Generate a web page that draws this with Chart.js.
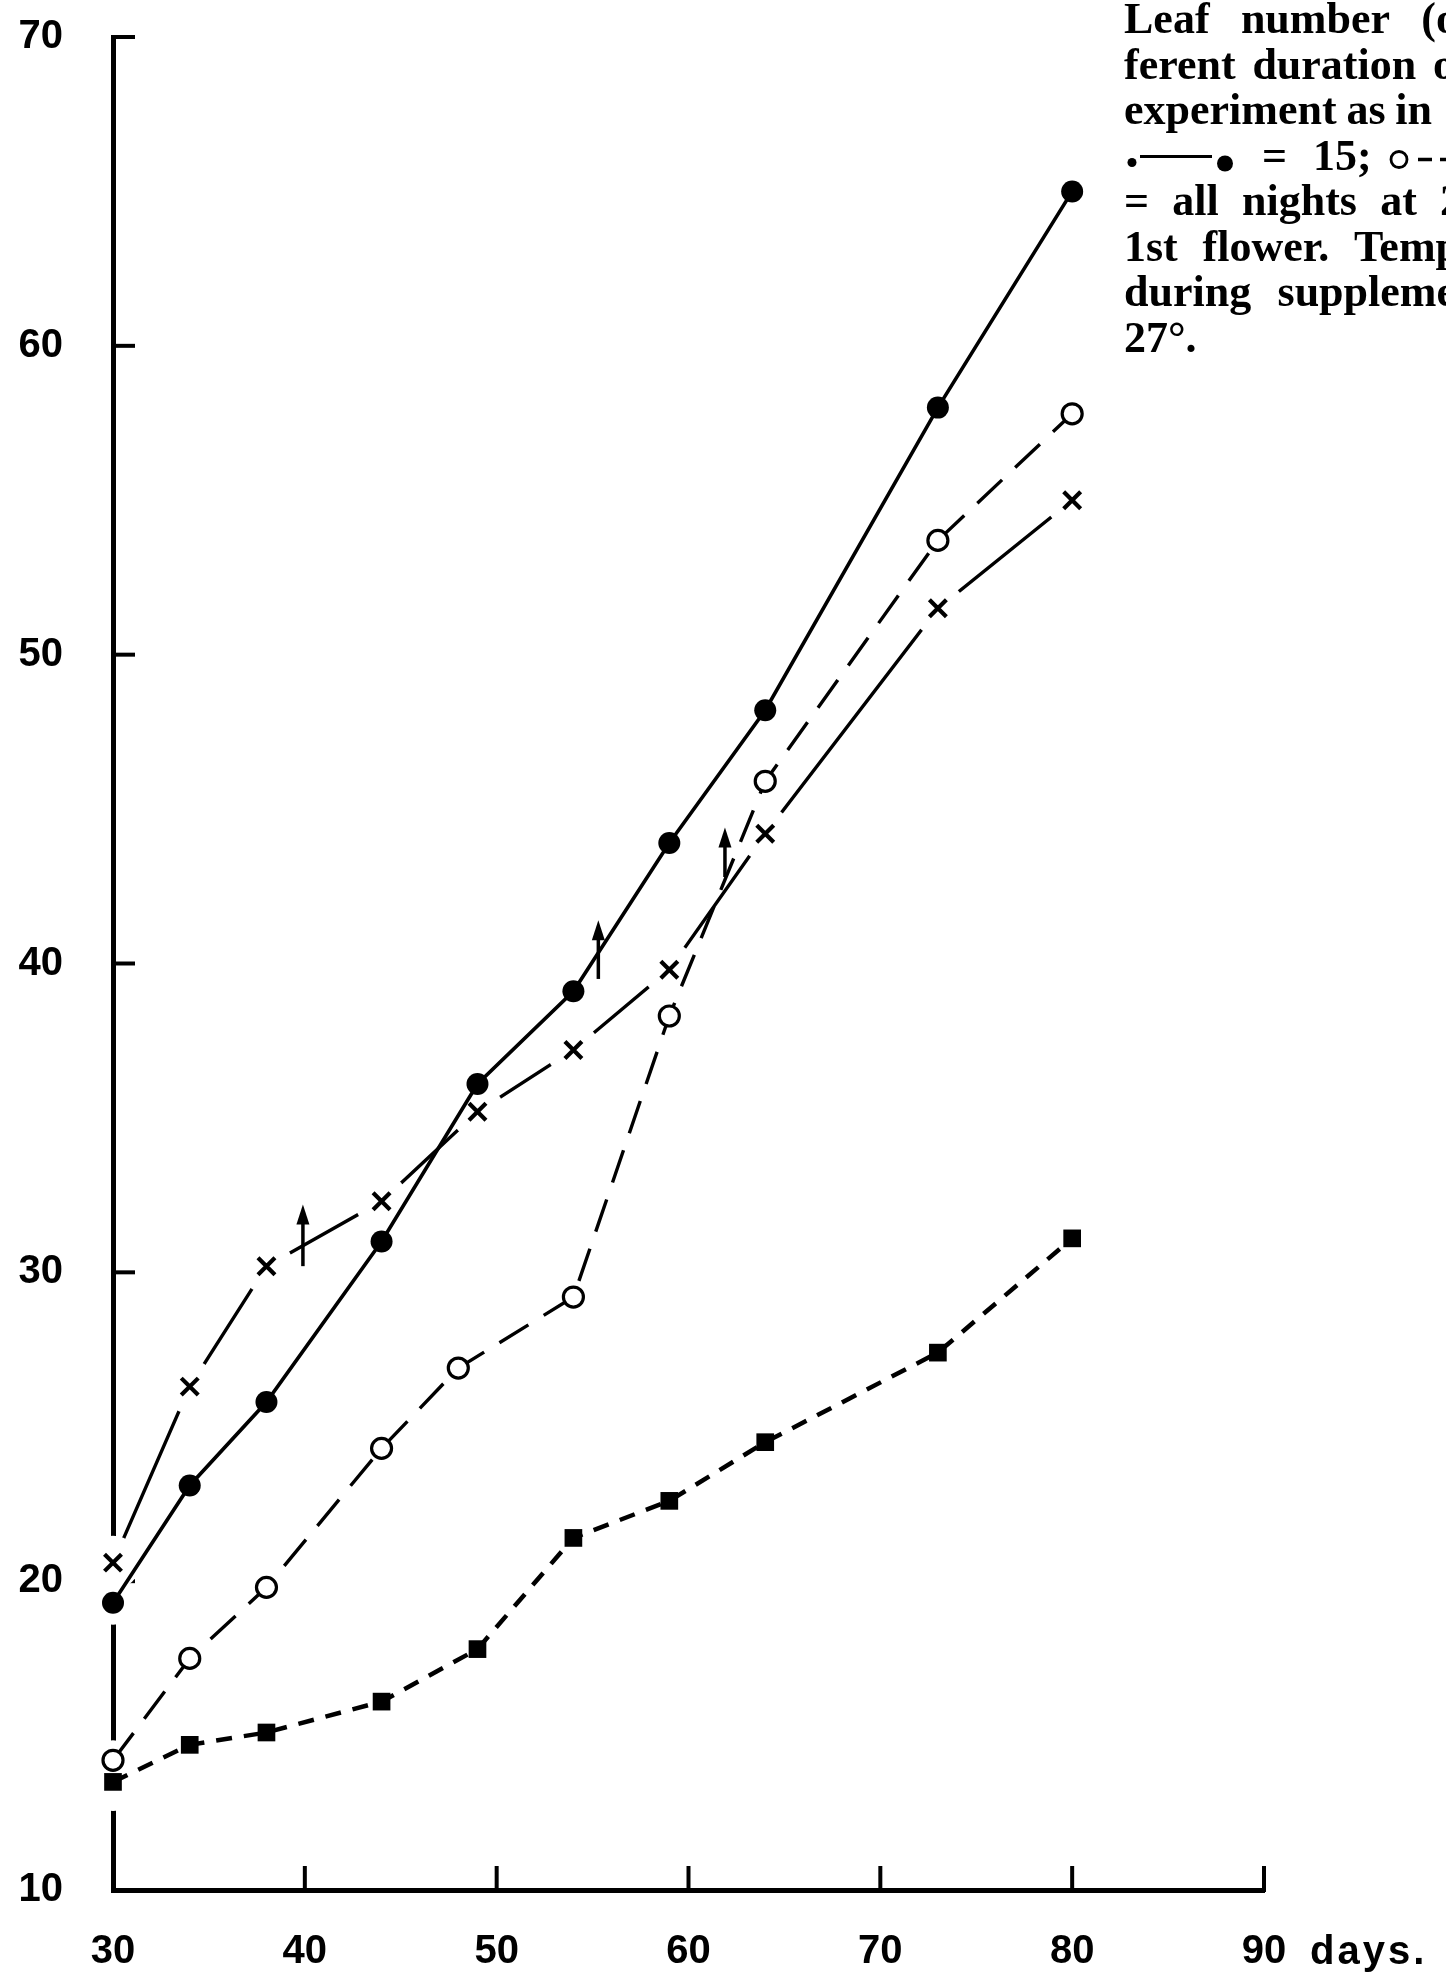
<!DOCTYPE html>
<html>
<head>
<meta charset="utf-8">
<title>Leaf number</title>
<script src="https://cdn.jsdelivr.net/npm/chart.js@4.4.1/dist/chart.umd.min.js"></script>
<style>
  html, body { margin: 0; padding: 0; background: #fff; }
  #wrap { width: 1446px; height: 1976px; }
</style>
</head>
<body>
<div id="wrap"><canvas id="leafChart" width="1446" height="1976"></canvas></div>
<script>
// leaf number against days from sowing, four night treatments
const days = [30, 34, 38, 44, 49, 54, 59, 64, 73, 80];
const daysOpen = [30, 34, 38, 44, 48, 54, 59, 64, 73, 80];
const leafFilled = [19.3, 23.1, 25.8, 31.0, 36.1, 39.1, 43.9, 48.2, 58.0, 65.0];
const leafOpen = [14.2, 17.5, 19.8, 24.3, 26.9, 29.2, 38.3, 45.9, 53.7, 57.8];
const leafCross = [20.6, 26.3, 30.2, 32.3, 35.2, 37.2, 39.8, 44.2, 51.5, 55.0];
const leafSquare = [13.5, 14.7, 15.1, 16.1, 17.8, 21.4, 22.6, 24.5, 27.4, 31.1];

const xTicks = [30, 40, 50, 60, 70, 80, 90];
const yTicks = [10, 20, 30, 40, 50, 60, 70];

// arrows marking first flower: day, from, to
const arrowDays = [39.9, 55.3, 61.9];
const arrowFrom = [30.2, 39.5, 42.8];
const arrowTo = [32.2, 41.4, 44.4];

const noteLines = ["Leaf number (o", "ferent duration o", "experiment as in", "= 15;", "= all nights at 2", "1st flower. Temp", "during suppleme", "27°."];

const pts = (xs, ys) => xs.map((d, i) => ({x: d, y: ys[i]}));

// white discs under the markers so lines and the axis break around them
const halo = (xs, ys, r, order) => ({
    data: pts(xs, ys),
    showLine: false,
    pointRadius: r,
    pointHoverRadius: r,
    pointBackgroundColor: "#fff",
    pointBorderWidth: 0,
    order: order,
    clip: false
});

const paperMarks = {
    id: "paperMarks",
    beforeDatasetsDraw(chart) {
        const {ctx, scales: {x, y}} = chart;
        ctx.save();
        ctx.strokeStyle = "#000";
        ctx.lineWidth = 4;
        // ticks point inwards
        yTicks.forEach(v => {
            if (v === 10) return;
            const py = y.getPixelForValue(v);
            ctx.beginPath();
            ctx.moveTo(x.left - 2, py);
            ctx.lineTo(x.left + 22, py);
            ctx.stroke();
        });
        xTicks.forEach(v => {
            if (v === 30) return;
            const px = x.getPixelForValue(v);
            ctx.beginPath();
            ctx.moveTo(px, y.bottom + 2);
            ctx.lineTo(px, y.bottom - 24);
            ctx.stroke();
        });
        ctx.restore();
    },
    afterDatasetsDraw(chart) {
        const {ctx, scales: {x, y}} = chart;
        ctx.save();
        ctx.strokeStyle = "#000";
        ctx.fillStyle = "#000";
        ctx.lineWidth = 3.5;
        arrowDays.forEach((d, i) => {
            const px = x.getPixelForValue(d);
            const y0 = y.getPixelForValue(arrowFrom[i]);
            const y1 = y.getPixelForValue(arrowTo[i]);
            ctx.beginPath();
            ctx.moveTo(px, y0);
            ctx.lineTo(px, y1 + 12);
            ctx.stroke();
            ctx.beginPath();
            ctx.moveTo(px, y1);
            ctx.lineTo(px - 6.5, y1 + 20);
            ctx.lineTo(px + 6.5, y1 + 20);
            ctx.closePath();
            ctx.fill();
        });
        ctx.restore();
    },
    afterDraw(chart) {
        const {ctx, scales: {x}} = chart;
        ctx.save();
        ctx.fillStyle = "#000";
        ctx.strokeStyle = "#000";

        // unit after the last x label
        ctx.font = 'bold 40px "Liberation Sans"';
        ctx.letterSpacing = "3px";
        ctx.textBaseline = "middle";
        ctx.textAlign = "left";
        ctx.fillText("days.", x.getPixelForValue(90) + 46, 1953);
        ctx.letterSpacing = "0px";

        // caption, runs off the right edge
        const left = 1124;
        const lineGap = 45.5;
        const ends = [1458, 1455, 1432, 0, 1462, 1460, 1456, 0];
        ctx.font = 'bold 44px "Liberation Serif"';
        ctx.textBaseline = "alphabetic";
        noteLines.forEach((line, i) => {
            const base = 33 + i * lineGap;
            if (i === 3) {
                // legend key for the solid series
                ctx.beginPath();
                ctx.arc(left + 8, base - 7, 4.5, 0, Math.PI * 2);
                ctx.fill();
                ctx.lineWidth = 3;
                ctx.beginPath();
                ctx.moveTo(left + 16, base - 13);
                ctx.lineTo(left + 88, base - 13);
                ctx.stroke();
                ctx.beginPath();
                ctx.arc(left + 101, base - 6, 8, 0, Math.PI * 2);
                ctx.fill();
                const [eq, num] = line.split(" ");
                ctx.fillText(eq, left + 138, base);
                ctx.fillText(num, left + 189, base);
                ctx.lineWidth = 2.8;
                ctx.beginPath();
                ctx.arc(left + 275, base - 10, 8, 0, Math.PI * 2);
                ctx.stroke();
                ctx.lineWidth = 3.5;
                ctx.beginPath();
                ctx.moveTo(left + 294, base - 10);
                ctx.lineTo(left + 308, base - 10);
                ctx.moveTo(left + 316, base - 10);
                ctx.lineTo(left + 330, base - 10);
                ctx.stroke();
                return;
            }
            const words = line.split(" ");
            if (!ends[i] || words.length < 2) {
                ctx.fillText(line, left, base);
                return;
            }
            const widths = words.map(w => ctx.measureText(w).width);
            const total = widths.reduce((a, b) => a + b, 0);
            const gap = (ends[i] - left - total) / (words.length - 1);
            let cx = left;
            words.forEach((w, k) => {
                ctx.fillText(w, cx, base);
                cx += widths[k] + gap;
            });
        });
        ctx.restore();
    }
};

new Chart("leafChart", {
    type: "line",
    data: {
        datasets: [
            // crosses on top of their own broken line
            {
                data: pts(days, leafCross),
                showLine: false,
                pointStyle: "crossRot",
                pointRadius: 12,
                pointBorderColor: "#000",
                pointBorderWidth: 4.2,
                order: 0,
                clip: false
            },
            {
                data: pts(days, leafFilled),
                borderColor: "#000",
                borderWidth: 3.6,
                pointRadius: 11,
                pointBackgroundColor: "#000",
                pointBorderWidth: 0,
                order: 1,
                clip: false
            },
            {
                data: pts(daysOpen, leafOpen),
                borderColor: "#000",
                borderWidth: 3.4,
                borderDash: [34, 18],
                pointRadius: 10,
                pointBackgroundColor: "#fff",
                pointBorderColor: "#000",
                pointBorderWidth: 3.2,
                order: 2,
                clip: false
            },
            {
                data: pts(days, leafSquare),
                borderColor: "#000",
                borderWidth: 4.5,
                borderDash: [16, 12],
                pointStyle: "rect",
                pointRadius: 12.5,
                pointBackgroundColor: "#000",
                pointBorderWidth: 0,
                order: 3,
                clip: false
            },
            halo(days, leafCross, 27, 5),
            {
                data: pts(days, leafCross),
                borderColor: "#000",
                borderWidth: 3.4,
                pointRadius: 0,
                order: 6,
                clip: false
            },
            halo(days, leafFilled, 22, 7),
            halo(daysOpen, leafOpen, 20, 7),
            halo(days, leafSquare, 29, 7)
        ]
    },
    options: {
        responsive: false,
        animation: false,
        layout: {
            padding: {top: 37, right: 182, left: 0, bottom: 0}
        },
        plugins: {
            legend: {display: false},
            tooltip: {enabled: false}
        },
        scales: {
            x: {
                type: "linear",
                min: 30,
                max: 90,
                afterBuildTicks: scale => { scale.ticks = xTicks.map(v => ({value: v})); },
                afterFit: scale => {
                    scale.height = 86;
                    scale.paddingLeft = 0;
                    scale.paddingRight = 0;
                },
                grid: {display: false, drawTicks: false},
                border: {display: true, color: "#000", width: 5},
                ticks: {
                    color: "#000",
                    padding: 38,
                    maxRotation: 0,
                    font: {family: "Liberation Sans", size: 40, weight: "bold"}
                }
            },
            y: {
                min: 10,
                max: 70,
                afterBuildTicks: scale => { scale.ticks = yTicks.map(v => ({value: v})); },
                afterFit: scale => {
                    scale.width = 113;
                    scale.paddingTop = 0;
                    scale.paddingBottom = 0;
                },
                grid: {display: false, drawTicks: false},
                border: {display: true, color: "#000", width: 5},
                ticks: {
                    color: "#000",
                    padding: 50,
                    font: {family: "Liberation Sans", size: 40, weight: "bold"}
                }
            }
        }
    },
    plugins: [paperMarks]
});
</script>
</body>
</html>
